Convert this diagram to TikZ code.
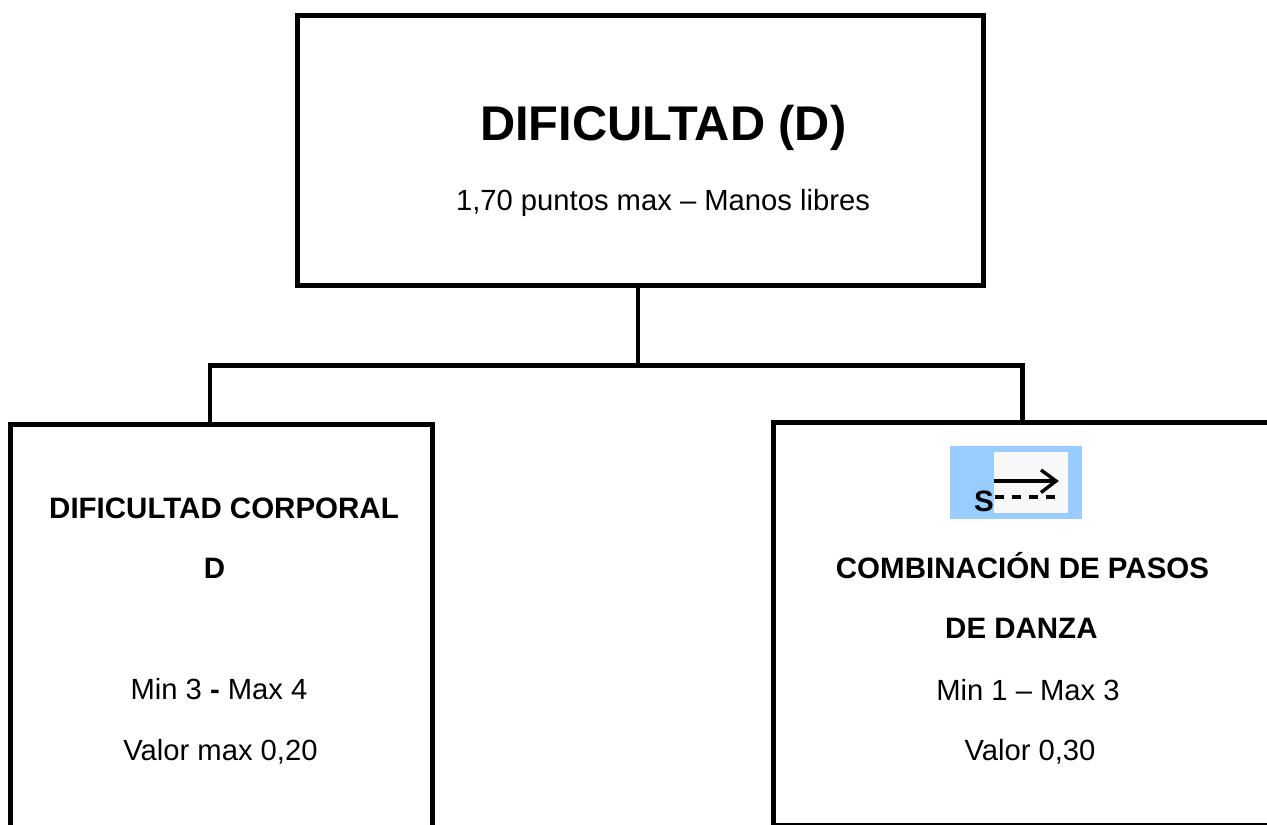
\documentclass[tikz,border=0pt]{standalone}
\usepackage{fontspec}
\setmainfont{Liberation Sans}
\usetikzlibrary{arrows,positioning}

\definecolor{iconblue}{HTML}{99CCFF}
\definecolor{iconwhite}{HTML}{F8F8F8}

\tikzset{
  box/.style={draw,line width=5pt,inner sep=0pt,outer sep=0pt},
  bar/.style={line width=4.6pt},
  big/.style={font=\fontsize{48.7}{58}\selectfont\bfseries,inner sep=0pt,anchor=base},
  head/.style={font=\fontsize{29.5}{35}\selectfont\bfseries,inner sep=0pt,anchor=base},
  plain/.style={font=\fontsize{29.2}{35}\selectfont,inner sep=0pt,anchor=base}
}

\begin{document}
\begin{tikzpicture}[x=1pt,y=-1pt]

  \useasboundingbox (0,0) rectangle (1267,825);
  \clip (0,0) rectangle (1267,825);

  \node[box,minimum width=686pt,minimum height=269.5pt]	(top)	at (640.5,150.25) {};
  \node[box,minimum width=422pt,minimum height=440pt]	(corporal)	at (221,644) {};
  \node[box,minimum width=540pt,minimum height=402.5pt]	(pasos)	at (1043.5,623.75) {};

  \node[big]	(title)	at (663.3,140)	{DIFICULTAD (D)};
  \node[plain]	(points)	at (663,210.7)	{1,70 puntos max -- Manos libres};

  \node[head]	(corpA)	at (224,518)	{DIFICULTAD CORPORAL};
  \node[head]	(corpB)	at (214.5,578.7)	{D};
  \node[plain]	(corpC)	at (219,699)	{Min 3 \textbf{-} Max 4};
  \node[plain]	(corpD)	at (220.5,760)	{Valor max 0,20};

  \node[head]	(pasosA)	at (1022.5,578)	{COMBINACIÓN DE PASOS};
  \node[head]	(pasosB)	at (1021.4,638.7)	{DE DANZA};
  \node[plain]	(pasosC)	at (1028,700)	{Min 1 -- Max 3};
  \node[plain]	(pasosD)	at (1030,760)	{Valor 0,30};

  \coordinate	(hub)	at (top.south -| 638,0);
  \coordinate	(join)	at (638,365.5);
  \coordinate	(legA)	at (210,365.5);
  \coordinate	(legB)	at (1022.7,365.5);

  \draw[bar] (hub) -- (join);
  \draw[bar,line cap=rect] (legA) -- (legB);
  \draw[bar] (legA) -- (legA |- corporal.north);
  \draw[bar] (legB) -- (legB |- pasos.north);

  \fill[fill=iconblue] (950,446) rectangle (1082,519);
  \fill[fill=iconwhite] (993.5,452) rectangle (1068,512.5);
  \draw[line width=4.4pt] (993.5,481) -- (1054,481);
  \draw[line width=3.4pt,line join=miter] (1041,470) -- (1056,481) -- (1041,492.5);
  \draw[line width=3.8pt,dash pattern=on 8.5pt off 8.5pt] (995,497) -- (1055,497);
  \node[font=\fontsize{29.5}{35}\selectfont\bfseries,inner sep=0pt,anchor=base]	(sign)	at (984,511.5)	{S};

\end{tikzpicture}
\end{document}
